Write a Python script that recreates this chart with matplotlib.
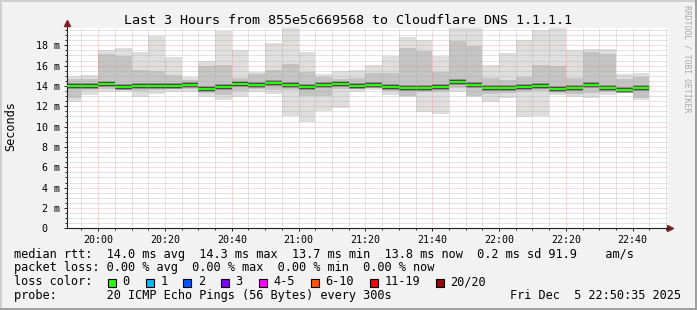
import matplotlib
matplotlib.use("Agg")
import matplotlib.pyplot as plt
from matplotlib.patches import Rectangle
from matplotlib.lines import Line2D
import numpy as np

# smoke of every 5 minute step (ms), first step is cut by the start of the window
rtt_max = [15.0, 15.1, 17.5, 17.75, 17.3, 18.95, 16.8, 14.85, 16.5, 19.45,
           17.5, 15.4, 18.25, 19.7, 17.35, 15.15, 15.5, 15.6, 16.1, 16.9,
           18.85, 18.5, 16.9, 19.7, 19.7, 16.05, 17.2, 18.5, 19.5, 19.7,
           17.5, 17.6, 17.6, 15.2, 15.3]
rtt_upper = [14.7, 14.7, 17.1, 16.9, 15.6, 15.5, 15.1, 14.6, 16.0, 16.1,
             14.8, 15.2, 15.6, 16.2, 15.4, 14.9, 14.7, 14.8, 15.3, 15.3,
             17.7, 17.4, 15.4, 18.4, 17.9, 14.8, 14.6, 14.9, 16.1, 16.0,
             14.8, 17.3, 17.1, 14.7, 14.9]
rtt_median = [14.0, 14.0, 14.15, 13.9, 14.0, 14.0, 14.0, 14.1, 13.7, 13.85,
              14.2, 14.1, 14.25, 14.05, 13.9, 14.1, 14.2, 14.0, 14.05, 13.9,
              13.8, 13.8, 13.9, 14.35, 14.1, 13.75, 13.75, 13.9, 14.0, 13.7,
              13.75, 14.05, 13.8, 13.6, 13.75]
rtt_lower = [12.8, 13.6, 13.7, 13.6, 13.5, 13.6, 13.7, 13.7, 13.3, 13.1,
             13.5, 13.7, 13.6, 13.6, 13.0, 13.0, 13.7, 13.7, 13.8, 13.5,
             13.0, 13.4, 13.4, 13.8, 13.0, 13.2, 13.3, 13.4, 13.5, 13.3,
             13.2, 13.3, 13.4, 13.4, 12.8]
rtt_min = [12.4, 13.1, 13.4, 13.4, 12.95, 13.2, 13.4, 13.4, 12.9, 12.6,
           12.95, 13.4, 13.25, 11.0, 10.5, 11.5, 11.85, 13.4, 13.6, 13.15,
           12.9, 11.4, 11.2, 13.45, 12.9, 12.4, 12.8, 10.9, 11.0, 13.1,
           12.95, 12.85, 13.1, 13.3, 12.6]

y_ticks = [0, 2, 4, 6, 8, 10, 12, 14, 16, 18]
x_tick_labels = ["20:00", "20:20", "20:40", "21:00", "21:20", "21:40", "22:00", "22:20", "22:40"]

stats_line = "median rtt:  14.0 ms avg  14.3 ms max  13.7 ms min  13.8 ms now  0.2 ms sd 91.9    am/s"
loss_line = "packet loss: 0.00 % avg  0.00 % max  0.00 % min  0.00 % now"
probe_line = "probe:       20 ICMP Echo Pings (56 Bytes) every 300s"
stamp = "Fri Dec  5 22:50:35 2025"
loss_labels = ["0", "1", "2", "3", "4-5", "6-10", "11-19", "20/20"]
loss_colors = ["#26ff00", "#00b8ff", "#0059ff", "#7e00ff", "#ff00ff", "#ff5500", "#ff0000", "#a10000"]

# time in minutes of the day
win_start = 19 * 60 + 50 + 35 / 60.0
win_end = win_start + 180
first_end = 19 * 60 + 55
step = 5

ends = first_end + step * np.arange(len(rtt_median))
starts = ends - step
starts[0] = win_start
widths = ends - starts

mono = "DejaVu Sans Mono"
W, H = 697.0, 310.0

fig = plt.figure(figsize=(6.97, 3.10), dpi=100, facecolor="#f2f2f2")
ax = fig.add_axes([66.7 / W, 1 - 228.3 / H, 601.3 / W, 200.3 / H])
ax.set_facecolor("white")

lo = np.array(rtt_min)
hi = np.array(rtt_max)
ax.bar(starts, hi - lo, width=widths, bottom=lo, align="edge", color="#dedede", linewidth=0, zorder=1)
lo2 = np.array(rtt_lower)
hi2 = np.array(rtt_upper)
ax.bar(starts, hi2 - lo2, width=widths, bottom=lo2, align="edge", color="#c4c4c4", linewidth=0, zorder=1.1)
ax.hlines(rtt_median, starts, ends, colors="#8c8c8c", linewidth=4.2, zorder=1.2)
ax.hlines(rtt_median, starts, ends, colors="#383838", linewidth=2.6, zorder=1.3)
ax.hlines(rtt_median, starts, ends, colors="#26ff00", linewidth=1.5, zorder=3)

ax.set_xlim(win_start, win_end)
ax.set_ylim(0, 19.7)

major_x = 20 * 60 + 20 * np.arange(len(x_tick_labels))
ax.set_xticks(major_x)
ax.set_xticklabels(x_tick_labels)
ax.set_xticks(np.arange(first_end, win_end, step), minor=True)
ax.set_yticks(y_ticks)
ax.set_yticklabels([("%d m" % v) if v else "0  " for v in y_ticks])
ax.set_yticks(np.arange(0, 19.6, 0.5), minor=True)

for lab in ax.get_xticklabels() + ax.get_yticklabels():
    lab.set_family(mono)
    lab.set_fontsize(7.2)
ax.tick_params(which="major", length=2.5, width=0.7, color="#202020", pad=2.5)
ax.tick_params(which="minor", length=1.5, width=0.7, color="#202020")

ax.grid(which="minor", color="#b0b0b0", linewidth=0.72, linestyle=(0, (1, 1)), alpha=0.7)
ax.grid(which="major", color="#f07070", linewidth=0.72, linestyle=(0, (1, 1)), alpha=0.5)
ax.set_axisbelow(False)

for s in ["top", "right"]:
    ax.spines[s].set_visible(False)
ax.spines["left"].set_color("#202020")
ax.spines["bottom"].set_color("#202020")
ax.spines["left"].set_linewidth(0.8)
ax.spines["bottom"].set_linewidth(0.8)
ax.plot([1.003], [0], marker=">", color="#801f1f", markersize=4, transform=ax.transAxes, clip_on=False)
ax.plot([0, 0], [1.0, 1.02], color="#202020", lw=0.8, transform=ax.transAxes, clip_on=False)
ax.plot([0], [1.025], marker="^", color="#801f1f", markersize=4, transform=ax.transAxes, clip_on=False)

ax.set_ylabel("Seconds", family=mono, fontsize=8.55, va="center")
ax.yaxis.set_label_coords(-(66.7 - 10.5) / 601.3, (228.3 - 126.5) / 200.3)

fig.text(348 / W, 1 - 24 / H, "Last 3 Hours from 855e5c669568 to Cloudflare DNS 1.1.1.1",
         ha="center", va="baseline", family=mono, fontsize=9.6)
fig.text(687.5 / W, 1 - 59 / H, "RRDTOOL / TOBI OETIKER", rotation=270, ha="center", va="center",
         family=mono, fontsize=5.9, color="#a8a8a8")

x0 = 14.5
cw = 7.15
fig.text(x0 / W, 1 - 257.7 / H, stats_line, family=mono, fontsize=8.55, va="baseline")
fig.text(x0 / W, 1 - 271.5 / H, loss_line, family=mono, fontsize=8.55, va="baseline")
fig.text(x0 / W, 1 - 285.3 / H, "loss color:", family=mono, fontsize=8.55, va="baseline")
fig.text(x0 / W, 1 - 299 / H, probe_line, family=mono, fontsize=8.55, va="baseline")
fig.text(681 / W, 1 - 299 / H, stamp, family=mono, fontsize=8.55, va="baseline", ha="right")

bx = 108.0
for lab, col in zip(loss_labels, loss_colors):
    fig.patches.append(Rectangle((bx / W, 1 - 286.7 / H), 8 / W, 8 / H, transform=fig.transFigure,
                                 facecolor=col, edgecolor="black", linewidth=0.8))
    fig.text((bx + 14.5) / W, 1 - 285.3 / H, lab, family=mono, fontsize=8.55, va="baseline")
    bx += 14.5 + len(lab) * cw + 16

# rrdtool style shaded border
fig.lines.append(Line2D([0, 1], [1 - 0.5 / H] * 2, transform=fig.transFigure, color="#cfcfcf", lw=1.4))
fig.lines.append(Line2D([0.5 / W] * 2, [0, 1], transform=fig.transFigure, color="#cfcfcf", lw=1.4))
fig.lines.append(Line2D([0, 1], [1 / H] * 2, transform=fig.transFigure, color="#9e9e9e", lw=1.4))
fig.lines.append(Line2D([1 - 1 / W] * 2, [0, 1], transform=fig.transFigure, color="#9e9e9e", lw=1.4))

fig.savefig("out.png", dpi=100, facecolor=fig.get_facecolor())
